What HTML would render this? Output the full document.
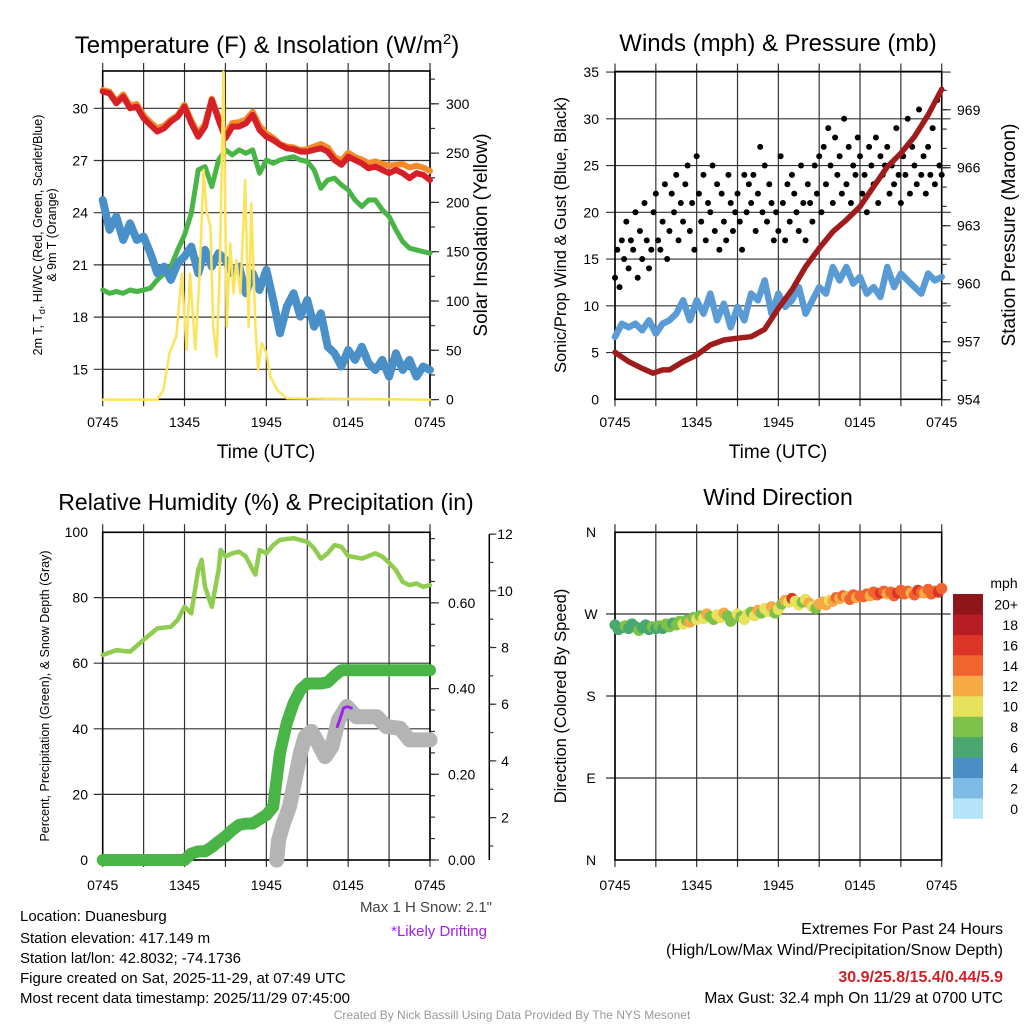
<!DOCTYPE html>
<html><head><meta charset="utf-8"><style>
html,body{margin:0;padding:0;background:#fff;}
svg{display:block;font-family:"Liberation Sans",Arial,sans-serif;}
</style></head><body>
<svg id="fig" xmlns="http://www.w3.org/2000/svg" width="1024" height="1024" viewBox="0 0 1024 1024">
<rect width="1024" height="1024" fill="#fff"/>
<text x="267" y="53" font-size="24" text-anchor="middle">Temperature (F) &amp; Insolation (W/m<tspan dy="-9" font-size="15">2</tspan><tspan dy="9">)</tspan></text>
<text x="778" y="51" font-size="24" text-anchor="middle">Winds (mph) &amp; Pressure (mb)</text>
<text x="266" y="510" font-size="23" text-anchor="middle">Relative Humidity (%) &amp; Precipitation (in)</text>
<text x="778" y="505" font-size="23" text-anchor="middle">Wind Direction</text>

<text x="266" y="458" font-size="19" text-anchor="middle">Time (UTC)</text>
<text x="778" y="458" font-size="19" text-anchor="middle">Time (UTC)</text>

<text transform="translate(42,235) rotate(-90)" font-size="12.5" text-anchor="middle">2m T, T<tspan dy="3" font-size="9">d</tspan><tspan dy="-3">, HI/WC (Red, Green, Scarlet/Blue)</tspan></text>
<text transform="translate(56,235) rotate(-90)" font-size="12.5" text-anchor="middle">&amp; 9m T (Orange)</text>
<text transform="translate(487,235) rotate(-90)" font-size="19" text-anchor="middle">Solar Insolation (Yellow)</text>
<text transform="translate(566,235) rotate(-90)" font-size="16.5" text-anchor="middle">Sonic/Prop Wind &amp; Gust (Blue, Black)</text>
<text transform="translate(1015,235) rotate(-90)" font-size="19" text-anchor="middle">Station Pressure (Maroon)</text>
<text transform="translate(49,696) rotate(-90)" font-size="12.5" text-anchor="middle">Percent, Precipitation (Green), &amp; Snow Depth (Gray)</text>
<text transform="translate(566,696) rotate(-90)" font-size="16.5" text-anchor="middle">Direction (Colored By Speed)</text>

<text x="492" y="912" font-size="15" fill="#444" text-anchor="end">Max 1 H Snow: 2.1"</text>
<text x="487" y="936" font-size="15" fill="#a020f0" text-anchor="end">*Likely Drifting</text>
<g font-size="15" fill="#000">
<text x="20" y="921">Location: Duanesburg</text>
<text x="20" y="943">Station elevation: 417.149 m</text>
<text x="20" y="963">Station lat/lon: 42.8032; -74.1736</text>
<text x="20" y="983">Figure created on Sat, 2025-11-29, at 07:49 UTC</text>
<text x="20" y="1003">Most recent data timestamp: 2025/11/29 07:45:00</text>
</g>
<g font-size="16" text-anchor="end">
<text x="1003" y="934">Extremes For Past 24 Hours</text>
<text x="1003" y="955">(High/Low/Max Wind/Precipitation/Snow Depth)</text>
<text x="1003" y="982" fill="#cc2229" font-weight="bold">30.9/25.8/15.4/0.44/5.9</text>
<text x="1003" y="1003" font-size="15.5">Max Gust: 32.4 mph On 11/29 at 0700 UTC</text>
</g>
<text x="512" y="1019" font-size="12" fill="#999" text-anchor="middle">Created By Nick Bassill Using Data Provided By The NYS Mesonet</text>
</svg>
<script>
// ---------- data ----------
const halfHours = [0,0.5,1,1.5,2,2.5,3,3.5,4,4.5,5,5.5,6,6.5,7,7.5,8,8.5,9,9.5,10,10.5,11,11.5,12,12.5,13,13.5,14,14.5,15,15.5,16,16.5,17,17.5,18,18.5,19,19.5,20,20.5,21,21.5,22,22.5,23,23.5,24];
const tempRed = [30.96,30.86,30.29,30.67,30.0,30.1,29.43,29.04,28.66,28.85,29.24,29.52,30.1,29.14,28.37,28.95,30.48,29.33,28.28,28.95,28.95,29.14,29.62,28.76,28.37,28.18,27.9,27.7,27.65,27.51,27.51,27.61,27.7,27.51,27.03,26.75,27.22,27.03,26.84,26.55,26.65,26.46,26.27,26.46,26.27,25.98,26.27,26.17,25.88];
const tempOrange = [31.05,30.95,30.4,30.8,30.15,30.25,29.6,29.2,28.85,29.0,29.35,29.6,30.2,29.3,28.55,29.1,30.55,29.5,28.5,29.15,29.2,29.35,29.8,29.0,28.55,28.3,27.95,27.8,27.75,27.6,27.65,27.8,27.95,27.75,27.2,27.0,27.45,27.2,27.05,26.85,26.95,26.8,26.7,26.75,26.8,26.6,26.7,26.6,26.4];
const dewpoint = [19.56,19.37,19.47,19.37,19.56,19.47,19.56,19.66,20.14,20.52,20.9,21.86,22.72,23.97,26.46,26.65,25.5,27.03,27.61,27.32,27.61,27.42,27.61,26.27,27.03,26.84,27.03,27.13,27.22,27.03,26.94,26.46,25.4,25.88,25.98,25.6,25.31,24.73,24.35,24.73,24.73,24.16,23.78,23.01,22.34,21.96,21.86,21.76,21.67];
const windChill = [24.73,23.01,23.78,22.43,23.39,22.43,22.63,21.67,20.52,20.9,20.14,21.1,21.48,22.05,20.52,21.86,20.9,21.67,21.29,20.52,20.9,19.37,20.52,19.56,20.71,18.99,17.07,18.6,19.37,18.03,18.99,17.45,18.22,16.3,15.92,15.16,16.11,15.54,16.3,15.35,14.96,15.54,14.58,15.92,14.96,15.54,14.58,15.16,14.96];
const solarTimes = [0,4,4.45,4.9,5.4,5.8,6.15,6.4,6.8,7.1,7.4,7.6,7.9,8.1,8.35,8.6,8.85,9.1,9.35,9.6,9.8,10.1,10.45,10.7,10.9,11.2,11.4,11.65,12,12.3,12.8,13.5,24];
const solarValues = [0,0,9.7,47.2,64.2,127.9,50.6,127.9,50.6,124.7,232.9,192.4,175.5,73.9,43.5,141.5,332.6,73.9,158.6,107.7,141.5,107.7,222.6,73.9,199,73.9,30.1,57.3,47.2,23.3,9.7,1.2,0];
const tempTicks = [15,18,21,24,27,30];
const solarTicks = [0,50,100,150,200,250,300];
const timeLabels = ["0745","1345","1945","0145","0745"];

const hourly = [0,1,2,2.8,3.5,4,5,6,7,8,9,10,11,12,13,14,15,16,17,18,19,20,21,22,23,24];
const pressure = [956.45,955.97,955.62,955.37,955.54,955.54,955.97,956.31,956.83,957.09,957.18,957.26,957.64,958.73,959.68,960.88,961.83,962.69,963.3,963.99,965.02,966.05,966.75,967.61,968.73,970.06];
const windSpeed = [6.67,8.09,7.7,8.09,7.38,8.45,7.02,8.09,8.45,9.16,10.59,8.45,10.59,9.16,11.3,8.45,10.24,7.7,9.88,8.45,11.3,10.59,12.72,9.16,11.3,9.88,10.59,12.0,9.16,10.59,12.0,11.3,14.15,12.72,14.15,12.37,13.08,11.3,12.0,10.95,14.15,12.0,13.44,12.72,12.0,11.3,13.44,12.72,13.08];
const gusts = [13,16,12,17,15,19,14,17,16,20,13,18,15,21,17,14,16,20,22,17,16,19,23,15,18,22,20,24,17,21,19,23,25,18,21,16,26,22,19,24,17,21,20,25,18,23,16,22,19,17,24,21,18,20,22,19,16,24,20,23,21,24,18,22,27,20,25,19,23,21,17,20,18,26,21,17,23,19,24,22,20,18,25,21,17,23,21,19,25,22,26,20,27,23,29,25,21,28,24,26,22,30,23,27,21,25,24,28,26,22,24,20,27,25,23,28,21,26,24,25,27,22,25,23,29,24,21,26,24,30,22,27,25,23,31,24,26,22,27,24,29,23,32,25,24];
const windTicks = [0,5,10,15,20,25,30,35];
const pressureTicks = [954,957,960,963,966,969];

const rhTimes = [0,1,2,3,4,5,5.5,6,6.5,7,7.25,7.5,8,8.5,8.65,9,9.5,10,10.5,11,11.2,11.5,12,12.5,13,14,15,15.5,16,16.5,17,17.5,18,19,20,20.5,21,21.5,22,22.5,23,23.5,24];
const rhValues = [62.5,64.0,63.5,67.1,70.6,71.1,73.2,77.2,75.2,88.4,91.5,83.3,77.2,88.4,94.5,92.5,93.5,94.0,92.5,88.4,87.0,94.5,93.5,96.0,97.6,98.1,97.0,95.0,91.9,93.5,96.0,95.5,92.7,91.9,93.5,92.5,90.6,88.4,84.8,83.8,84.3,83.3,83.8];
const precipValues = [0,0,0,0,0,0,0,0,0,0,0,0,0,0.015,0.02,0.02,0.03,0.043,0.055,0.07,0.082,0.085,0.085,0.095,0.105,0.124,0.25,0.32,0.366,0.397,0.412,0.412,0.412,0.415,0.43,0.443,0.443,0.443,0.443,0.443,0.443,0.443,0.443,0.443,0.443,0.443,0.443,0.443,0.443];
const snowTimes = [12.76,12.9,13.25,13.7,14.1,14.5,14.85,15.3,15.8,16.3,16.8,17.3,17.9,18.6,20.1,20.8,21.8,22.5,24];
const snowValues = [0.5,1.21,1.8,2.39,3.33,4.27,4.86,5.04,4.62,4.15,4.5,5.45,5.92,5.56,5.56,5.21,5.15,4.74,4.74];
const driftTimes = [17.2,17.45,17.65,17.9,18.25];
const driftValues = [5.21,5.55,5.86,5.92,5.86];
const rhTicks = [0,20,40,60,80,100];
const precipTicks = [0,0.2,0.4,0.6];
const precipTickLabels = ["0.00","0.20","0.40","0.60"];
const snowTicks = [2,4,6,8,10,12];

const directions = [258,253,255,257,254,259,256,252,255,258,253,256,254,257,254,259,256,260,258,262,259,263,261,266,264,268,265,270,267,264,269,266,271,268,262,266,270,267,264,270,272,268,274,271,276,273,278,271,275,281,285,283,287,284,280,283,286,282,278,276,281,283,280,285,284,288,287,290,289,286,291,288,290,289,292,290,294,291,293,295,292,294,290,293,296,292,295,293,291,296,294,293,297,292,295,294,298];
const dirSpeeds = [7,6,7,8,7,6,7,8,7,6,7,8,7,8,7,9,8,7,9,8,10,9,12,8,10,9,10,12,8,9,11,10,12,8,9,8,11,9,10,11,8,10,12,9,11,10,13,8,11,9,12,10,16,11,10,9,11,12,10,8,12,12,13,11,12,14,13,15,12,14,15,13,14,15,14,13,15,14,16,15,13,15,14,16,15,15,14,13,15,16,14,13,15,14,15,16,15];
const dirTicks = [0,90,180,270,360];
const dirTickLabels = ["N","E","S","W","N"];
const speedBinLabels = ["0","2","4","6","8","10","12","14","16","18","20+"];
const speedBinColors = ["#b5e3f8","#7dbae4","#4a8ec6","#4aa76f","#7cc24a","#e7e15b","#f6aa45","#f16430","#dd3428","#b81c24","#8e1519"];

// ---------- helpers ----------
const NS = "http://www.w3.org/2000/svg";
const svg = document.getElementById("fig");
function mk(tag, attrs){ const e=document.createElementNS(NS,tag); for(const k in attrs) e.setAttribute(k,attrs[k]); return e; }
const P1={x0:102.7,x1:430,y0:71,y1:399.3};
const P2={x0:615,x1:941.7,y0:71.5,y1:399.3};
const P3={x0:102.7,x1:430,y0:532.3,y1:860};
const P4={x0:615,x1:941.7,y0:532.3,y1:860};
function xT(p,t){ return p.x0 + t/24*(p.x1-p.x0); }
const yTemp = v => 108.3 + (30-v)*17.4;
const ySolar = v => 399.6 - v*0.986;
const yWind = v => 399.3 - v*9.35;
const yPres = v => 399.7 - (v-954)*19.33;
const yRH = v => 860 - v*3.28;
const yPrecip = v => 860 - v*428.5;
const ySnow = v => 874.3 - v*28.35;
const yDir = v => 860 - v*328/360;
function pathD(p, ts, vs, yf){ return ts.map((t,i)=>(i?"L":"M")+xT(p,t).toFixed(1)+","+yf(vs[i]).toFixed(1)).join(""); }
function line(p, ts, vs, yf, color, w, name){
  const e = mk("path",{d:pathD(p,ts,vs,yf),fill:"none",stroke:color,"stroke-width":w,"stroke-linejoin":"round","stroke-linecap":"round"});
  
  
  svg.appendChild(e);
}
function txt(x,y,s,anchor,size,name){
  const e = mk("text",{x:x,y:y,"font-size":size,"text-anchor":anchor});
  e.textContent = s;
  
  
  svg.appendChild(e);
}
function frame(p, ticks, yf, rightExt, pname){
  for(let h=0;h<=24;h+=3){
    const x=xT(p,h);
    const g = mk("line",{x1:x,x2:x,y1:p.y0-8,y2:p.y1+7,stroke:"#333","stroke-width":1.2});
    
    
    svg.appendChild(g);
  }
  ticks.forEach(v=>{
    const y=yf(v);
    const g = mk("line",{x1:p.x0-9,x2:p.x1+rightExt,y1:y,y2:y,stroke:"#333","stroke-width":1.2});
    
    
    svg.appendChild(g);
  });
  const r = mk("rect",{x:p.x0,y:p.y0,width:p.x1-p.x0,height:p.y1-p.y0,fill:"none",stroke:"#000","stroke-width":1.6});
  
  
  svg.appendChild(r);
}
function xLabels(p, y, pname){
  timeLabels.forEach((s,i)=>txt(xT(p,i*6), y, s, "middle", 14, pname+'-x-tick-label'));
}
function rightTicks(p, x, vals, yf, len, name){
  vals.forEach(v=>{
    const t = mk("line",{x1:x,x2:x+len,y1:yf(v),y2:yf(v),stroke:"#333","stroke-width":1.2});
    
    
    svg.appendChild(t);
  });
}

// ---------- panel 1 ----------
frame(P1, tempTicks, yTemp, 0, "temp-panel");
tempTicks.forEach(v=>txt(88, yTemp(v)+5, String(v), "end", 14, "temp-y-tick-label"));
rightTicks(P1, P1.x1, [0,25,50,75,100,125,150,175,200,225,250,275,300,325], ySolar, 5, "solar-minor-tick");
rightTicks(P1, P1.x1, solarTicks, ySolar, 9, "solar-major-tick");
solarTicks.forEach(v=>txt(446, ySolar(v)+5, String(v), "start", 14, "solar-y-tick-label"));
xLabels(P1, 427, "temp-panel");
line(P1, halfHours, tempOrange, yTemp, "#f58a2a", 6, "temp-9m-orange-line");
line(P1, halfHours, tempRed, yTemp, "#d62027", 6, "temp-2m-red-line");
line(P1, halfHours, dewpoint, yTemp, "#48b546", 5, "dewpoint-green-line");
line(P1, halfHours, windChill, yTemp, "#4a90c8", 8, "wind-chill-blue-line");
line(P1, solarTimes, solarValues, ySolar, "#fde35a", 2.5, "solar-insolation-line");

// ---------- panel 2 ----------
frame(P2, windTicks.slice(1), yWind, 9, "winds-panel");
windTicks.forEach(v=>txt(599, yWind(v)+5, String(v), "end", 14, "wind-y-tick-label"));
rightTicks(P2, P2.x1, [954,955,956,957,958,959,960,961,962,963,964,965,966,967,968,969,970], yPres, 5, "pressure-minor-tick");
rightTicks(P2, P2.x1, pressureTicks, yPres, 9, "pressure-major-tick");
pressureTicks.forEach(v=>txt(957, yPres(v)+5, String(v), "start", 14, "pressure-y-tick-label"));
xLabels(P2, 427, "winds-panel");
line(P2, halfHours, windSpeed, yWind, "#5a9bd5", 6.5, "sustained-wind-line");
gusts.forEach((g,i)=>{
  const c = mk("circle",{cx:xT(P2,i/6),cy:yWind(g),r:3,fill:"#000"});
  
  
  svg.appendChild(c);
});
line(P2, hourly, pressure, yPres, "#a01c1c", 5.5, "pressure-line");

// ---------- panel 3 ----------
frame(P3, rhTicks.slice(1,5), yRH, 0, "rh-panel");
rhTicks.forEach(v=>txt(88, yRH(v)+5, String(v), "end", 14, "rh-y-tick-label"));
rightTicks(P3, P3.x1, [0,0.05,0.1,0.15,0.2,0.25,0.3,0.35,0.4,0.45,0.5,0.55,0.6,0.65,0.7,0.75], yPrecip, 5, "precip-minor-tick");
rightTicks(P3, P3.x1, precipTicks, yPrecip, 9, "precip-major-tick");
precipTicks.forEach((v,i)=>txt(448, yPrecip(v)+5, precipTickLabels[i], "start", 14, "precip-y-tick-label"));
(function(){
  const a = mk("line",{x1:489.3,x2:489.3,y1:534,y2:860,stroke:"#000","stroke-width":1.5});
  
  
  svg.appendChild(a);
})();
rightTicks(P3, 489.3, [1,2,3,4,5,6,7,8,9,10,11,12], ySnow, 4, "snow-minor-tick");
rightTicks(P3, 489.3, snowTicks, ySnow, 7, "snow-major-tick");
snowTicks.forEach(v=>txt(505, ySnow(v)+5, String(v), "middle", 14, "snow-y-tick-label"));
xLabels(P3, 890, "rh-panel");
line(P3, rhTimes, rhValues, yRH, "#8fcc4f", 4.5, "relative-humidity-line");
line(P3, snowTimes, snowValues, ySnow, "#b4b4b4", 15, "snow-depth-line");
line(P3, halfHours, precipValues, yPrecip, "#48b546", 12, "precipitation-line");
(function(){
  const e = mk("path",{d:pathD(P3,driftTimes,driftValues,ySnow),fill:"none",stroke:"#a020f0","stroke-width":3,"stroke-dasharray":"4,2","stroke-linecap":"round"});
  
  
  svg.appendChild(e);
})();

// ---------- panel 4 ----------
frame(P4, dirTicks.slice(1,4), yDir, 9, "direction-panel");
dirTicks.forEach((v,i)=>txt(591, yDir(v)+5, dirTickLabels[i], "middle", 14, "direction-y-tick-label"));
xLabels(P4, 890, "direction-panel");
function speedColor(s){ let b=Math.floor(s/2); if(b>10) b=10; if(b<0) b=0; return speedBinColors[b]; }
directions.forEach((d,i)=>{
  const c = mk("circle",{cx:xT(P4,i/4),cy:yDir(d),r:5.6,fill:speedColor(dirSpeeds[i])});
  
  
  svg.appendChild(c);
});
// colorbar
txt(1004, 588, "mph", "middle", 14, "colorbar-unit-label");
speedBinColors.forEach((col,i)=>{
  const top = 818.7 - (i+1)*20.43;
  const r = mk("rect",{x:953,y:top,width:30,height:20.6,fill:col});
  
  
  svg.appendChild(r);
  txt(1018, top+15.5, speedBinLabels[i], "end", 14, "colorbar-label");
});
</script>
</body></html>
